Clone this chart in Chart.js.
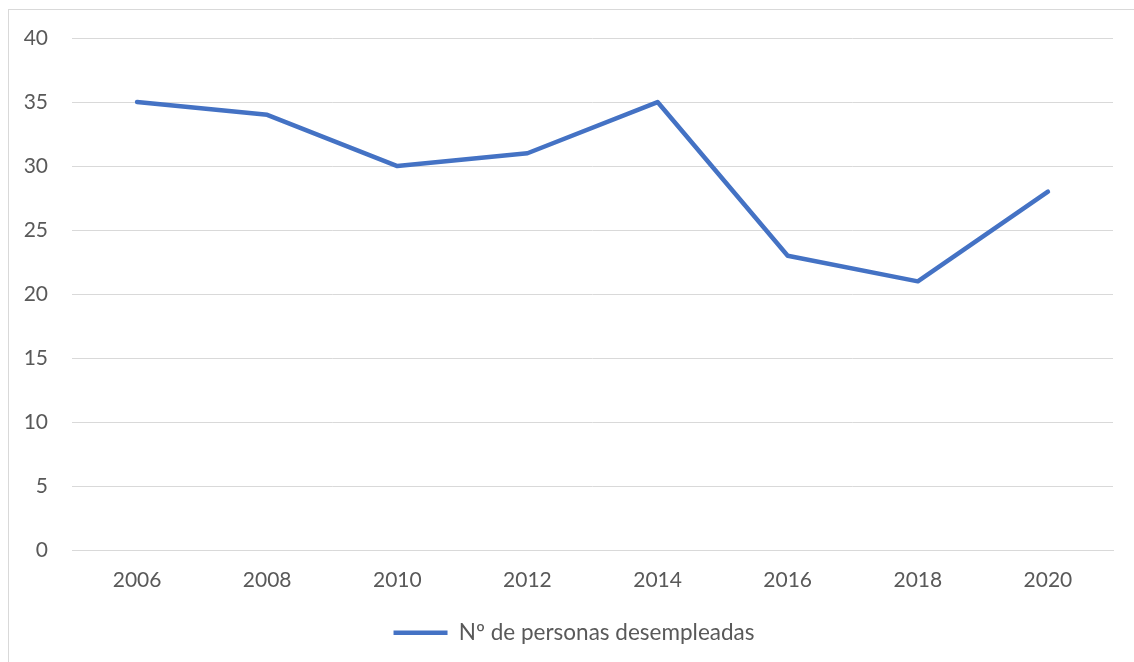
<!DOCTYPE html>
<html>
<head>
<meta charset="utf-8">
<script src="https://cdn.jsdelivr.net/npm/chart.js@4"></script>
<style>
  body { margin: 0; background: #fff; overflow: hidden; }
  #frame {
    position: absolute; left: 8px; top: 9px;
    width: 1130px; height: 660px;
    border: 1px solid #d9d9d9;
  }
</style>
</head>
<body>
<div id="frame"><canvas id="chart" width="1130" height="660"></canvas></div>
<script>
// datos
const years = ['2006', '2008', '2010', '2012', '2014', '2016', '2018', '2020'];
const desempleados = [35, 34, 30, 31, 35, 23, 21, 28];
const serieLabel = 'Nº de personas desempleadas';

const textColor = '#595959';
const gridColor = '#d9d9d9';

const ctx = document.getElementById('chart').getContext('2d');
new Chart(ctx, {
    type: 'line',
    data: {
        labels: years,
        datasets: [{
            label: serieLabel,
            data: desempleados,
            borderColor: '#4472c4',
            backgroundColor: '#4472c4',
            borderWidth: 4.5,
            borderCapStyle: 'round',
            borderJoinStyle: 'round',
            pointRadius: 0,
            tension: 0
        }]
    },
    options: {
        responsive: false,
        animation: false,
        layout: { padding: { top: 0, left: 0, right: 0, bottom: 16 } },
        plugins: {
            tooltip: { enabled: false },
            legend: {
                position: 'bottom',
                labels: {
                    color: textColor,
                    font: { family: 'Lato', size: 22.5 },
                    usePointStyle: true,
                    pointStyle: 'line',
                    pointStyleWidth: 54,
                    padding: 12
                }
            }
        },
        scales: {
            x: {
                offset: true,
                grid: { display: false, drawTicks: false },
                border: { display: true, color: gridColor, width: 1 },
                ticks: { color: textColor, font: { family: 'Lato', size: 21 }, padding: 17, maxRotation: 0 }
            },
            y: {
                min: 0,
                max: 40,
                afterFit: (axis) => {
                    // ancho fijo del eje y margen superior como en el original
                    axis.width = 63;
                    axis.paddingTop = 28;
                    axis.paddingBottom = 0;
                },
                grid: { color: gridColor, lineWidth: 1, drawTicks: false },
                border: { display: false },
                ticks: { stepSize: 5, color: textColor, font: { family: 'Lato', size: 21 }, padding: 24 }
            },
            // eje vacío a la derecha, solo para dejar el margen derecho
            margen: {
                position: 'right',
                afterFit: (axis) => {
                    axis.width = 26;
                    axis.paddingTop = 0;
                    axis.paddingBottom = 0;
                },
                grid: { display: false },
                border: { display: false },
                ticks: { display: false }
            }
        }
    }
});
</script>
</body>
</html>
